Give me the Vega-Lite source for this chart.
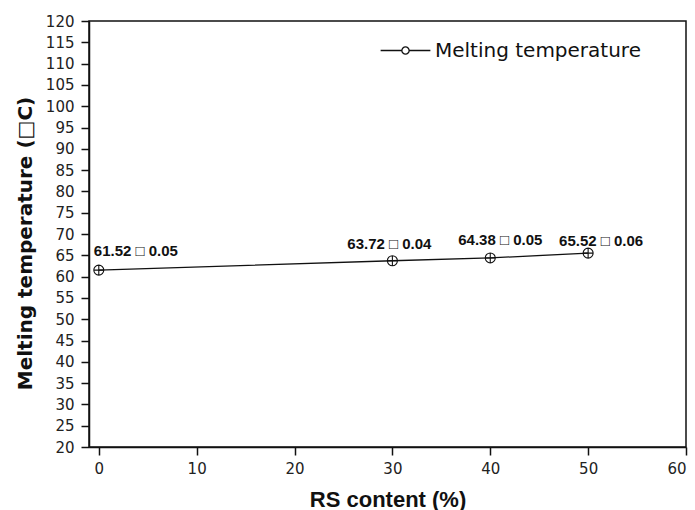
{
  "$schema": "https://vega.github.io/schema/vega-lite/v6.json",
  "autosize": "none",
  "width": 597,
  "height": 426,
  "padding": {"left": 89, "top": 21, "right": 9, "bottom": 63},
  "background": "white",
  "config": {
    "font": "DejaVu Sans",
    "view": {"stroke": "#111", "strokeWidth": 1.5},
    "axis": {
      "grid": false,
      "domainColor": "#111",
      "domainWidth": 1.5,
      "tickColor": "#111",
      "tickWidth": 1.5,
      "tickSize": 8,
      "labelFont": "DejaVu Sans",
      "labelFontSize": 15,
      "labelColor": "#222",
      "titleFont": "Liberation Sans",
      "titleFontSize": 22,
      "titleFontWeight": "bold",
      "titleColor": "#111"
    }
  },
  "data": {
    "values": [
      {"rs": 0, "tm": 61.52, "label": "61.52 □ 0.05"},
      {"rs": 30, "tm": 63.72, "label": "63.72 □ 0.04"},
      {"rs": 40, "tm": 64.38, "label": "64.38 □ 0.05"},
      {"rs": 50, "tm": 65.52, "label": "65.52 □ 0.06"}
    ]
  },
  "encoding": {
    "x": {
      "field": "rs",
      "type": "quantitative",
      "scale": {"domain": [-1, 60], "nice": false, "zero": false},
      "axis": {"values": [0, 10, 20, 30, 40, 50, 60], "title": "RS content (%)", "titlePadding": 13, "labelPadding": 6}
    },
    "y": {
      "field": "tm",
      "type": "quantitative",
      "scale": {"domain": [20, 120], "nice": false, "zero": false},
      "axis": {
        "values": [20, 25, 30, 35, 40, 45, 50, 55, 60, 65, 70, 75, 80, 85, 90, 95, 100, 105, 110, 115, 120],
        "title": "Melting temperature (□C)",
        "titleFont": "DejaVu Sans",
        "titleFontSize": 20,
        "titleY": 222,
        "titlePadding": 10,
        "labelPadding": 7
      }
    }
  },
  "layer": [
    {
      "mark": {"type": "line", "color": "#111", "strokeWidth": 1.3},
      "encoding": {
        "color": {
          "datum": "Melting temperature",
          "type": "nominal",
          "scale": {"range": ["#111"]},
          "legend": {
            "title": null,
            "orient": "none",
            "legendX": 299,
            "legendY": 12,
            "symbolType": "M -1.5 0 L -0.22 0 M 0.22 0 L 1.5 0 M -0.22 0 A 0.22 0.22 0 1 0 0.22 0 A 0.22 0.22 0 1 0 -0.22 0",
            "symbolSize": 1100,
            "symbolStrokeWidth": 1.3,
            "symbolFillColor": "white",
            "symbolStrokeColor": "#111",
            "labelFontSize": 20,
            "labelColor": "#111",
            "labelFont": "DejaVu Sans",
            "labelOffset": 12,
            "labelLimit": 400
          }
        }
      }
    },
    {
      "mark": {
        "type": "point",
        "shape": "M -1 0 A 1 1 0 1 0 1 0 A 1 1 0 1 0 -1 0 Z M -1 0 L 1 0 M 0 -1 L 0 1",
        "size": 100,
        "filled": false,
        "color": "#111",
        "strokeWidth": 1.1,
        "opacity": 1
      }
    },
    {
      "mark": {
        "type": "text",
        "font": "Liberation Sans",
        "fontWeight": "bold",
        "fontSize": 15,
        "color": "#111",
        "dy": {"expr": "datum.rs == 0 ? -19 : datum.rs == 30 ? -17 : datum.rs == 40 ? -18 : -12"},
        "align": {"expr": "datum.rs == 0 ? 'left' : 'center'"},
        "dx": {"expr": "datum.rs == 0 ? -5 : datum.rs == 30 ? -3 : datum.rs == 40 ? 10 : 13"}
      },
      "encoding": {"text": {"field": "label"}}
    }
  ]
}
